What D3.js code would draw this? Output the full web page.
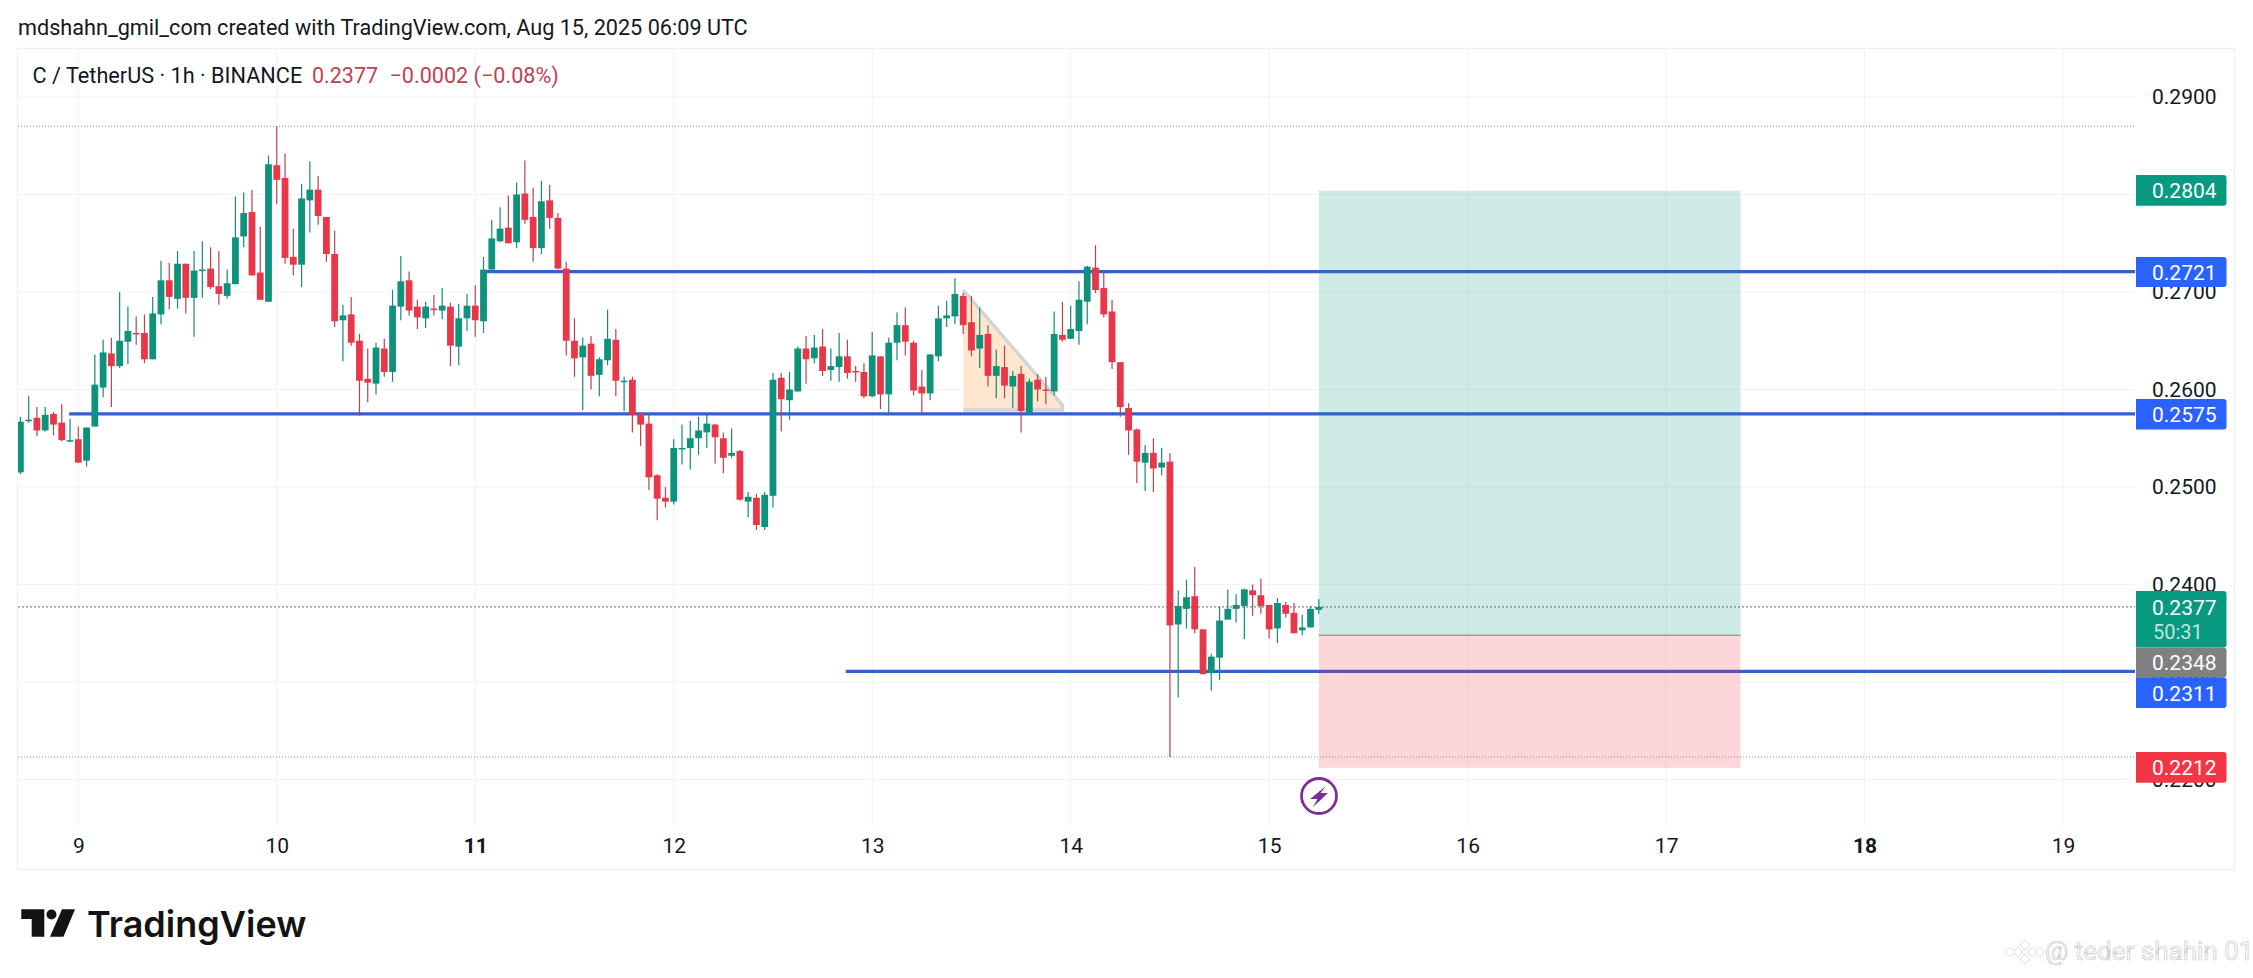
<!DOCTYPE html>
<html>
  <head>
    <meta charset="utf-8"/>
    <title>C / TetherUS 1h</title>
    <style type="text/css">
html, body {
  margin: 0;
  padding: 0;
  background: #fff;
}
svg {
  display: block;
}
text {
  font-family: Roboto, sans-serif;
  fill: #131722;
}
.box-label {
  fill: #fff;
}
.axis path, .axis line {
  display: none;
}
.axis text {
  font-family: Roboto, sans-serif;
  font-size: 21px;
  fill: #131722;
}
    </style>
  </head>
  <body>
    <div id="chart"></div>
    <script src="https://d3js.org/d3.v7.min.js"></script>
    <script>
    // hourly candles (first candle is Aug 8 17:00)
    const opens = [
      0.2515,0.2568,0.2571,0.2558,0.2575,0.2566,0.2547,0.2549,0.2527,0.2562,
      0.2602,0.2637,0.2624,0.2649,0.2658,0.2658,0.2631,0.2677,0.2712,0.2693,
      0.2729,0.2694,0.2722,0.2724,0.2706,0.2696,0.2708,0.2757,0.2782,0.2720,
      0.2690,0.2830,0.2817,0.2736,0.2728,0.2794,0.2805,0.2777,0.2739,0.2671,
      0.2677,0.2650,0.2611,0.2606,0.2642,0.2618,0.2685,0.2712,0.2685,0.2673,
      0.2683,0.2681,0.2685,0.2644,0.2673,0.2686,0.2670,0.2723,0.2752,0.2766,
      0.2751,0.2801,0.2777,0.2745,0.2794,0.2776,0.2724,0.2650,0.2633,0.2647,
      0.2615,0.2630,0.2651,0.2608,0.2610,0.2575,0.2565,0.2512,0.2489,0.2485,
      0.2539,0.2540,0.2550,0.2556,0.2564,0.2550,0.2532,0.2537,0.2485,0.2489,
      0.2459,0.2491,0.2612,0.2589,0.2598,0.2642,0.2632,0.2644,0.2620,0.2623,
      0.2634,0.2619,0.2618,0.2593,0.2634,0.2595,0.2648,0.2666,0.2648,0.2603,
      0.2596,0.2634,0.2673,0.2675,0.2696,0.2669,0.2642,0.2657,0.2614,0.2623,
      0.2603,0.2616,0.2575,0.2610,0.2600,0.2598,0.2656,0.2652,0.2660,0.2690,
      0.2725,0.2704,0.2680,0.2628,0.2581,0.2559,0.2525,0.2535,0.2520,0.2526,
      0.2359,0.2375,0.2388,0.2354,0.2309,0.2325,0.2364,0.2375,0.2378,0.2394,
      0.2389,0.2379,0.2355,0.2379,0.2371,0.2353,0.2356,0.2374
    ];
    const highs = [
      0.2572,0.2593,0.2582,0.2582,0.2577,0.2585,0.2570,0.2562,0.2561,0.2636,
      0.2651,0.2653,0.2700,0.2685,0.2675,0.2677,0.2695,0.2732,0.2730,0.2742,
      0.2729,0.2742,0.2752,0.2746,0.2742,0.2723,0.2798,0.2802,0.2805,0.2767,
      0.2840,0.2870,0.2842,0.2765,0.2811,0.2834,0.2819,0.2777,0.2763,0.2687,
      0.2695,0.2657,0.2642,0.2648,0.2652,0.2702,0.2737,0.2721,0.2692,0.2690,
      0.2697,0.2704,0.2689,0.2688,0.2698,0.2707,0.2736,0.2774,0.2787,0.2799,
      0.2812,0.2835,0.2807,0.2814,0.2810,0.2781,0.2731,0.2673,0.2653,0.2655,
      0.2633,0.2682,0.2662,0.2613,0.2613,0.2576,0.2574,0.2513,0.2500,0.2549,
      0.2564,0.2568,0.2572,0.2574,0.2565,0.2556,0.2560,0.2538,0.2495,0.2493,
      0.2495,0.2617,0.2617,0.2618,0.2644,0.2655,0.2656,0.2662,0.2642,0.2658,
      0.2651,0.2624,0.2627,0.2659,0.2634,0.2653,0.2679,0.2684,0.2650,0.2620,
      0.2636,0.2686,0.2691,0.2714,0.2699,0.2696,0.2684,0.2666,0.2641,0.2645,
      0.2619,0.2624,0.2611,0.2616,0.2613,0.2680,0.2690,0.2686,0.2711,0.2727,
      0.2748,0.2721,0.2692,0.2628,0.2586,0.2560,0.2543,0.2550,0.2540,0.2535,
      0.2394,0.2405,0.2418,0.2354,0.2329,0.2377,0.2395,0.2390,0.2396,0.2400,
      0.2406,0.2379,0.2386,0.2382,0.2381,0.2369,0.2378,0.2385
    ];
    const lows = [
      0.2513,0.2566,0.2552,0.2557,0.2553,0.2547,0.2546,0.2525,0.2521,0.2562,
      0.2592,0.2582,0.2622,0.2626,0.2646,0.2627,0.2631,0.2667,0.2682,0.2683,
      0.2678,0.2654,0.2694,0.2703,0.2687,0.2693,0.2708,0.2746,0.2717,0.2692,
      0.2690,0.2790,0.2729,0.2717,0.2705,0.2761,0.2769,0.2731,0.2664,0.2629,
      0.2645,0.2573,0.2587,0.2595,0.2613,0.2608,0.2671,0.2676,0.2662,0.2663,
      0.2676,0.2672,0.2624,0.2625,0.2660,0.2654,0.2658,0.2723,0.2751,0.2750,
      0.2745,0.2770,0.2731,0.2739,0.2765,0.2723,0.2635,0.2613,0.2579,0.2600,
      0.2593,0.2625,0.2593,0.2578,0.2556,0.2542,0.2497,0.2466,0.2479,0.2482,
      0.2523,0.2518,0.2533,0.2540,0.2524,0.2514,0.2530,0.2486,0.2469,0.2456,
      0.2456,0.2479,0.2557,0.2569,0.2598,0.2606,0.2627,0.2614,0.2609,0.2608,
      0.2611,0.2608,0.2591,0.2592,0.2580,0.2575,0.2630,0.2635,0.2594,0.2575,
      0.2589,0.2629,0.2664,0.2667,0.2657,0.2634,0.2622,0.2603,0.2591,0.2591,
      0.2581,0.2556,0.2575,0.2588,0.2585,0.2594,0.2649,0.2652,0.2646,0.2667,
      0.2699,0.2674,0.2621,0.2572,0.2533,0.2504,0.2496,0.2495,0.2512,0.2223,
      0.2284,0.2355,0.2350,0.2308,0.2291,0.2302,0.2364,0.2361,0.2344,0.2368,
      0.2370,0.2345,0.2340,0.2366,0.2350,0.2348,0.2356,0.2370
    ];
    const closes = [
      0.2567,0.2569,0.2558,0.2574,0.2564,0.2548,0.2548,0.2525,0.2561,0.2605,
      0.2638,0.2624,0.2650,0.2660,0.2657,0.2631,0.2678,0.2712,0.2695,0.2729,
      0.2694,0.2722,0.2723,0.2705,0.2698,0.2709,0.2756,0.2781,0.2717,0.2692,
      0.2831,0.2815,0.2735,0.2728,0.2796,0.2805,0.2778,0.2739,0.2670,0.2676,
      0.2648,0.2609,0.2607,0.2643,0.2618,0.2686,0.2711,0.2681,0.2674,0.2685,
      0.2682,0.2686,0.2645,0.2673,0.2686,0.2671,0.2723,0.2755,0.2765,0.2750,
      0.2800,0.2774,0.2745,0.2793,0.2776,0.2724,0.2650,0.2632,0.2645,0.2614,
      0.2631,0.2652,0.2609,0.2609,0.2574,0.2564,0.2510,0.2488,0.2485,0.2540,
      0.2540,0.2550,0.2558,0.2565,0.2551,0.2530,0.2535,0.2487,0.2490,0.2461,
      0.2492,0.2610,0.2590,0.2600,0.2642,0.2631,0.2643,0.2619,0.2624,0.2634,
      0.2617,0.2618,0.2593,0.2635,0.2595,0.2648,0.2666,0.2649,0.2599,0.2596,
      0.2636,0.2673,0.2676,0.2698,0.2666,0.2640,0.2656,0.2614,0.2624,0.2604,
      0.2614,0.2578,0.2608,0.2600,0.2599,0.2657,0.2651,0.2662,0.2692,0.2726,
      0.2702,0.2677,0.2628,0.2582,0.2558,0.2526,0.2535,0.2519,0.2525,0.2358,
      0.2378,0.2387,0.2354,0.2308,0.2326,0.2363,0.2375,0.2379,0.2395,0.2389,
      0.2378,0.2354,0.2381,0.2370,0.2350,0.2356,0.2375,0.2377
    ];

    const dayLabels = [9, 10, 11, 12, 13, 14, 15, 16, 17, 18, 19];
    const boldDays = [11, 18];
    const firstDayIndex = 7;
    const priceTicks = [0.22, 0.23, 0.24, 0.25, 0.26, 0.27, 0.28, 0.29];

    // drawings: [start candle, price]
    const blueLines = [[56.2, 0.2721], [5.9, 0.2575], [99.8, 0.2311]];
    const triangle = [[114, 0.2702], [126, 0.2584], [126, 0.2579], [114, 0.2579]];
    const positionStart = 157, positionEnd = 208;
    const targetPrice = 0.2804, entryPrice = 0.2348, stopPrice = 0.2212;
    const lastPrice = 0.2377, sessionHigh = 0.2870, sessionLow = 0.2223;

    const green = "#089981", red = "#f23645", blue = "#2962ff", lineBlue = "#3360d0";
    const candleGreen = "#0e927b", candleRed = "#e9374a", wickGreen = "#14897a", wickRed = "#b8424f";

    const width = 2253, height = 978;
    const paneLeft = 18, paneRight = 2135, paneTop = 49, paneBottom = 826;

    const x = d3.scaleLinear().domain([0, 100]).range([20.4, 847.4]);
    const y = d3.scaleLinear().domain([0.22, 0.29]).range([779.5, 97]);

    const svg = d3.select("#chart").append("svg")
        .attr("width", width)
        .attr("height", height);

    svg.append("defs").append("clipPath").attr("id", "pane")
      .append("rect")
        .attr("x", paneLeft).attr("y", paneTop)
        .attr("width", paneRight - paneLeft).attr("height", paneBottom - paneTop);

    // frame
    svg.append("rect")
        .attr("x", 17.5).attr("y", 48.5)
        .attr("width", 2217).attr("height", 821)
        .attr("fill", "none")
        .attr("stroke", "#f0f1f3")
        .attr("stroke-width", 1.5);

    const dayIndex = dayLabels.map((d, i) => firstDayIndex + i * 24);

    const pane = svg.append("g").attr("clip-path", "url(#pane)");

    // grid
    pane.selectAll(".hgrid").data(priceTicks).enter().append("line")
        .attr("x1", paneLeft).attr("x2", paneRight)
        .attr("y1", d => y(d)).attr("y2", d => y(d))
        .attr("stroke", "#f2f3f5");
    pane.selectAll(".vgrid").data(dayIndex).enter().append("line")
        .attr("x1", d => x(d)).attr("x2", d => x(d))
        .attr("y1", paneTop).attr("y2", paneBottom)
        .attr("stroke", "#f2f3f5");

    // triangle drawing
    pane.append("path")
        .attr("d", "M" + triangle.map(p => x(p[0]) + "," + y(p[1])).join("L") + "Z")
        .attr("fill", "#ffe7cf");
    pane.append("path")
        .attr("d", "M" + triangle.map(p => x(p[0]) + "," + y(p[1])).join("L"))
        .attr("fill", "none")
        .attr("stroke", "#d4d4d6")
        .attr("stroke-width", 3.5);

    // high, low and last price lines
    pane.selectAll(".dotted").data([sessionHigh, sessionLow]).enter().append("line")
        .attr("x1", paneLeft).attr("x2", paneRight)
        .attr("y1", d => y(d)).attr("y2", d => y(d))
        .attr("stroke", "#8a8f99")
        .attr("stroke-dasharray", "1 2");
    pane.append("line")
        .attr("x1", paneLeft).attr("x2", paneRight)
        .attr("y1", y(lastPrice)).attr("y2", y(lastPrice))
        .attr("stroke", "#5f6b6b")
        .attr("stroke-dasharray", "2 2");

    // horizontal rays
    pane.selectAll(".ray").data(blueLines).enter().append("line")
        .attr("x1", d => x(d[0])).attr("x2", paneRight)
        .attr("y1", d => y(d[1])).attr("y2", d => y(d[1]))
        .attr("stroke", lineBlue)
        .attr("stroke-width", 3.2);

    // long position
    pane.append("rect")
        .attr("x", x(positionStart)).attr("width", x(positionEnd) - x(positionStart))
        .attr("y", y(targetPrice)).attr("height", y(entryPrice) - y(targetPrice))
        .attr("fill", green).attr("fill-opacity", 0.2);
    pane.append("rect")
        .attr("x", x(positionStart)).attr("width", x(positionEnd) - x(positionStart))
        .attr("y", y(entryPrice)).attr("height", y(stopPrice) - y(entryPrice))
        .attr("fill", red).attr("fill-opacity", 0.2);
    pane.append("line")
        .attr("x1", x(positionStart)).attr("x2", x(positionEnd))
        .attr("y1", y(entryPrice)).attr("y2", y(entryPrice))
        .attr("stroke", "#787b86");

    // candles
    const candles = pane.selectAll(".candle").data(opens).enter().append("g");
    const up = i => closes[i] >= opens[i];
    candles.append("line")
        .attr("x1", (d, i) => x(i)).attr("x2", (d, i) => x(i))
        .attr("y1", (d, i) => y(highs[i])).attr("y2", (d, i) => y(lows[i]))
        .attr("stroke", (d, i) => up(i) ? wickGreen : wickRed)
        .attr("stroke-width", 1.2);
    const bodyWidth = (x(1) - x(0)) * 0.82;
    candles.append("rect")
        .attr("x", (d, i) => x(i) - bodyWidth / 2)
        .attr("width", bodyWidth)
        .attr("y", (d, i) => Math.min(y(opens[i]), y(closes[i])))
        .attr("height", (d, i) => Math.max(1.5, Math.abs(y(opens[i]) - y(closes[i]))))
        .attr("fill", (d, i) => up(i) ? candleGreen : candleRed);

    // axes
    svg.append("g")
        .attr("class", "axis")
        .attr("transform", "translate(2152,0)")
        .call(d3.axisRight(y).tickValues(priceTicks).tickFormat(d3.format(".4f")).tickSize(0).tickPadding(0));

    svg.append("g")
        .attr("class", "axis")
        .attr("transform", "translate(0,838)")
        .call(d3.axisBottom(x).tickValues(dayIndex).tickFormat((d, i) => dayLabels[i]).tickSize(0).tickPadding(0))
        .selectAll("text")
        .style("font-weight", (d, i) => boldDays.includes(dayLabels[i]) ? 700 : 400);

    // price labels on the axis
    const labelBoxes = [
      {text: "0.2804", top: 175, bottom: 205.7, fill: green},
      {text: "0.2721", top: 257, bottom: 287, fill: blue},
      {text: "0.2575", top: 399, bottom: 429.5, fill: blue},
      {text: "0.2377", top: 591, bottom: 647.5, fill: green, baseline: 615, sub: "50:31"},
      {text: "0.2348", top: 647.5, bottom: 677.3, fill: "#808080"},
      {text: "0.2311", top: 677.3, bottom: 708, fill: blue},
      {text: "0.2212", top: 752, bottom: 782.7, fill: red}
    ];
    const boxLeft = 2136, boxRight = 2226.5, r = 3;
    labelBoxes.forEach(b => {
      svg.append("path")
          .attr("d", "M" + boxLeft + "," + b.top + "H" + (boxRight - r) + "Q" + boxRight + "," + b.top + " " + boxRight + "," + (b.top + r)
            + "V" + (b.bottom - r) + "Q" + boxRight + "," + b.bottom + " " + (boxRight - r) + "," + b.bottom + "H" + boxLeft + "Z")
          .attr("fill", b.fill);
      svg.append("text")
          .attr("class", "box-label")
          .attr("x", 2152)
          .attr("y", b.baseline || (b.top + b.bottom) / 2 + 8)
          .attr("font-size", 21)
          .text(b.text);
      if (b.sub) {
        svg.append("text")
            .attr("class", "box-label")
            .attr("x", 2153)
            .attr("y", 639)
            .attr("font-size", 20)
            .style("fill-opacity", 0.75)
            .text(b.sub);
      }
    });

    // header texts
    svg.append("text").attr("x", 18).attr("y", 35).attr("font-size", 21.65)
        .text("mdshahn_gmil_com created with TradingView.com, Aug 15, 2025 06:09 UTC");
    svg.append("text").attr("x", 32.5).attr("y", 83).attr("font-size", 21.7)
        .text("C / TetherUS · 1h · BINANCE");
    svg.append("text").attr("x", 312).attr("y", 83).attr("font-size", 21.5)
        .style("fill", "#c23f52").text("0.2377");
    svg.append("text").attr("x", 389.5).attr("y", 83).attr("font-size", 21.6)
        .style("fill", "#c23f52").text("−0.0002 (−0.08%)");

    // alert icon
    const icon = svg.append("g").attr("transform", "translate(1319,796)");
    icon.append("circle").attr("r", 17.5)
        .attr("fill", "#fff").attr("stroke", "#7b2f96").attr("stroke-width", 2.8);
    icon.append("path")
        .attr("d", "M7,-10 L-9,3 L-1.5,3 L-6,11 L9,-3 L1.5,-3 Z")
        .attr("fill", "#7b2f96");

    // TradingView logo
    const logo = svg.append("g").attr("fill", "#131313");
    logo.append("path").attr("d", "M21.3,909.3H44.3V936.7H31.7V919H21.3Z");
    logo.append("circle").attr("cx", 51.5).attr("cy", 914.5).attr("r", 5);
    logo.append("path").attr("d", "M62,909.3H75L63.5,936.7H50Z");
    svg.append("text").attr("x", 87).attr("y", 937)
        .style("font-family", "Inter, sans-serif")
        .attr("font-size", 36)
        .style("font-weight", 600)
        .style("fill", "#131313")
        .text("TradingView");

    // watermark
    const mark = svg.append("g").attr("fill", "#fff").attr("stroke", "#d8d8d8").attr("stroke-width", 0.8);
    [[0, -7], [-7, 0], [7, 0], [0, 7], [-15, 0], [15, 0]].forEach(p => {
      mark.append("rect")
          .attr("x", -3.5).attr("y", -3.5).attr("width", 7).attr("height", 7)
          .attr("transform", "translate(" + (2025 + p[0]) + "," + (952 + p[1]) + ") rotate(45)");
    });
    svg.append("text").attr("x", 2045).attr("y", 960)
        .attr("font-size", 26)
        .style("fill", "#fff")
        .style("stroke", "#c9c9c9")
        .style("stroke-width", 0.7)
        .text("@ teder shahin 01");
    </script>
  </body>
</html>
